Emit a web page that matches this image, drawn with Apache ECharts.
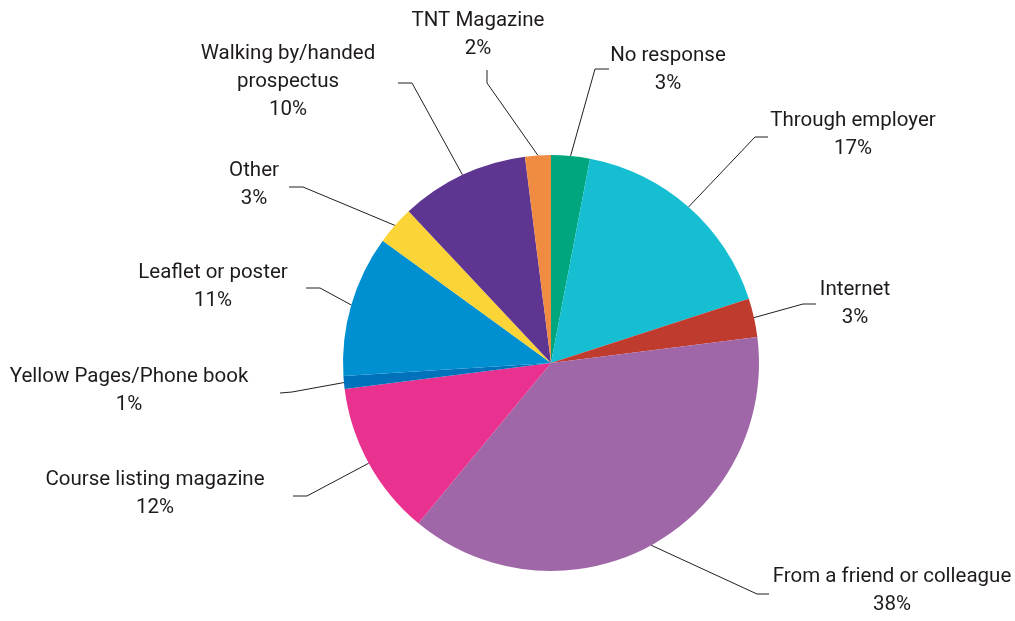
<!DOCTYPE html>
<html>
<head>
<meta charset="utf-8">
<script src="https://cdn.jsdelivr.net/npm/echarts@6/dist/echarts.min.js"></script>
<style>
  html, body { margin: 0; padding: 0; background: #ffffff; }
  #chart { width: 1015px; height: 621px; }
</style>
</head>
<body>
<div id="chart"></div>
<script>
// How respondents heard about the course (share of responses, %), clockwise from 12 o'clock
const categories = [
  'No response',
  'Through employer',
  'Internet',
  'From a friend or colleague',
  'Course listing magazine',
  'Yellow Pages/Phone book',
  'Leaflet or poster',
  'Other',
  'Walking by/handed\nprospectus',
  'TNT Magazine'
];
const shares = [3, 17, 3, 38, 12, 1, 11, 3, 10, 2];

const sliceColors = [
  '#00a67e', '#15bed1', '#bf3b2d', '#a067a8', '#e9318f',
  '#0071bb', '#0090d1', '#fbd437', '#5f3592', '#f08b42'
];

// Callout placement: label centre, then the elbow and end of the leader line
const callouts = [
  { at: [668, 70],  elbow: [595, 69],  end: [609, 69] },
  { at: [853, 135], elbow: [755, 137], end: [768, 137] },
  { at: [855, 304], elbow: [803, 304], end: [816, 304] },
  { at: [892, 591], elbow: [757, 594], end: [769, 594] },
  { at: [155, 494], elbow: [307, 496], end: [293, 496] },
  { at: [129, 391], elbow: [292, 392], end: [280, 393] },
  { at: [213, 287], elbow: [320, 288], end: [306, 288] },
  { at: [254, 185], elbow: [303, 187], end: [289, 187] },
  { at: [288, 82],  elbow: [412, 83],  end: [398, 83] },
  { at: [478, 35],  elbow: [487, 83],  end: [487, 70] }
];

const chart = echarts.init(document.getElementById('chart'), null, { renderer: 'canvas' });

chart.setOption({
  backgroundColor: '#ffffff',
  animation: false,
  series: [{
    type: 'pie',
    center: [551, 363],
    radius: 208,
    startAngle: 90,
    clockwise: true,
    avoidLabelOverlap: false,
    itemStyle: { borderWidth: 0 },
    emphasis: { disabled: true },
    label: {
      show: true,
      position: 'outside',
      formatter: p => p.name + '\n' + p.value + '%',
      fontFamily: 'Roboto',
      fontSize: 20.5,
      lineHeight: 28,
      color: '#1f1b1c',
      align: 'center'
    },
    labelLine: {
      show: true,
      lineStyle: { color: '#231f20', width: 1 }
    },
    labelLayout: params => {
      const c = callouts[params.dataIndex];
      return {
        x: c.at[0],
        y: c.at[1],
        align: 'center',
        verticalAlign: 'middle',
        labelLinePoints: [params.labelLinePoints[0], c.elbow, c.end]
      };
    },
    data: categories.map((name, i) => ({
      name: name,
      value: shares[i],
      itemStyle: { color: sliceColors[i] }
    }))
  }]
});
</script>
</body>
</html>
